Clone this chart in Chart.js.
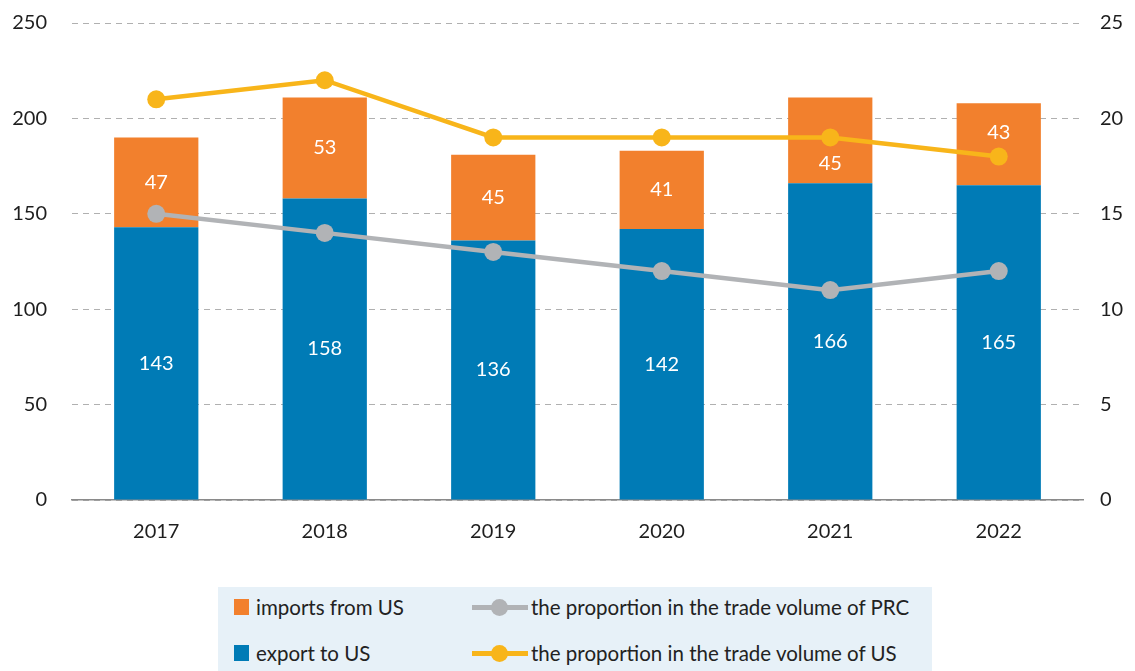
<!DOCTYPE html>
<html>
<head>
<meta charset="utf-8">
<script src="https://cdn.jsdelivr.net/npm/chart.js@4"></script>
<style>
  html, body { margin: 0; padding: 0; background: #fff; }
  #wrap { position: relative; width: 1135px; height: 671px; font-family: Lato, "Open Sans", sans-serif; }
  #chartBox { position: absolute; left: 0; top: 0; width: 1135px; height: 564px; }
  #legend {
    position: absolute; left: 218px; top: 587px; width: 714px; height: 84px;
    background: #e7f1f8; color: #222; font-size: 20.5px;
  }
  .item { position: absolute; display: flex; align-items: center; white-space: nowrap; height: 24px; }
  .box { width: 15px; height: 16px; margin-right: 7px; }
  .ln { position: relative; width: 56px; height: 5px; margin-right: 3px; }
  .ln i { position: absolute; left: 19px; top: -6px; width: 17px; height: 17px; border-radius: 50%; }
</style>
</head>
<body>
<div id="wrap">
  <div id="chartBox"><canvas id="tradeChart"></canvas></div>
  <div id="legend">
    <div class="item" style="left:16px;top:8px"><span class="box" style="background:#f2802d"></span>imports from US</div>
    <div class="item" style="left:16px;top:54px"><span class="box" style="background:#007bb6"></span>export to US</div>
    <div class="item" style="left:254px;top:8px"><span class="ln" style="background:#b1b3b6"><i style="background:#b1b3b6"></i></span>the proportion in the trade volume of PRC</div>
    <div class="item" style="left:254px;top:54px"><span class="ln" style="background:#f8b51a"><i style="background:#f8b51a"></i></span>the proportion in the trade volume of US</div>
  </div>
</div>
<script>
// dados
const years = ['2017', '2018', '2019', '2020', '2021', '2022'];
const exportToUS = [143, 158, 136, 142, 166, 165];
const importsFromUS = [47, 53, 45, 41, 45, 43];
const sharePRC = [15, 14, 13, 12, 11, 12];
const shareUS = [21, 22, 19, 19, 19, 18];

const BLUE = '#007bb6', ORANGE = '#f2802d', GREY = '#b1b3b6', YELLOW = '#f8b51a';
const FONT = 'Lato, "Open Sans", sans-serif';

// labels inside the bars, pushed away from line markers when they overlap
const barLabels = {
  id: 'barLabels',
  afterDatasetsDraw(chart) {
    const ctx = chart.ctx;
    const points = [];
    chart.data.datasets.forEach((ds, i) => {
      if (ds.type === 'line') chart.getDatasetMeta(i).data.forEach((p, j) => points.push({ j, y: p.y }));
    });
    ctx.save();
    ctx.fillStyle = '#fff';
    ctx.font = '20px ' + FONT;
    ctx.textAlign = 'center';
    ctx.textBaseline = 'middle';
    chart.data.datasets.forEach((ds, i) => {
      if (ds.type !== 'bar') return;
      chart.getDatasetMeta(i).data.forEach((bar, j) => {
        let y = (bar.y + bar.base) / 2;
        points.filter(p => p.j === j).forEach(p => {
          if (Math.abs(p.y - y) < 22) y = p.y <= y ? p.y + 26 : p.y - 24;
        });
        ctx.fillText(ds.data[j], bar.x, y);
      });
    });
    ctx.restore();
  }
};

new Chart(document.getElementById('tradeChart'), {
  data: {
    labels: years,
    datasets: [
      { type: 'bar', label: 'export to US', data: exportToUS, backgroundColor: BLUE, yAxisID: 'y', order: 2 },
      { type: 'bar', label: 'imports from US', data: importsFromUS, backgroundColor: ORANGE, yAxisID: 'y', order: 2 },
      { type: 'line', label: 'the proportion in the trade volume of PRC', data: sharePRC, borderColor: GREY, backgroundColor: GREY,
        borderWidth: 4.5, pointRadius: 9, pointBorderWidth: 0, yAxisID: 'y1', order: 1 },
      { type: 'line', label: 'the proportion in the trade volume of US', data: shareUS, borderColor: YELLOW, backgroundColor: YELLOW,
        borderWidth: 4.5, pointRadius: 9, pointBorderWidth: 0, yAxisID: 'y1', order: 0 }
    ]
  },
  options: {
    responsive: true,
    maintainAspectRatio: false,
    animation: false,
    datasets: { bar: { categoryPercentage: 1, barPercentage: 0.5 } },
    layout: { padding: 0 },
    plugins: { legend: { display: false }, tooltip: { enabled: false } },
    scales: {
      x: {
        stacked: true,
        grid: { display: false, drawTicks: false },
        border: { display: true, color: '#8a8a8a', width: 1.5 },
        ticks: { color: '#1e1e1e', font: { family: FONT, size: 20 }, padding: 20 }
      },
      y: {
        stacked: true, min: 0, max: 250,
        ticks: { stepSize: 50, color: '#1e1e1e', font: { family: FONT, size: 20 }, padding: 11 },
        grid: { color: '#b0b0b0', drawTicks: true, tickLength: 14, tickColor: 'transparent' },
        border: { display: false, dash: [6, 5] },
        afterFit(s) { s.width = 72; }
      },
      y1: {
        position: 'right', min: 0, max: 25,
        ticks: { stepSize: 5, color: '#1e1e1e', font: { family: FONT, size: 20 }, padding: 11 },
        grid: { display: false, drawTicks: true, tickLength: 6, tickColor: 'transparent' },
        border: { display: false },
        afterFit(s) { s.width = 52; }
      }
    }
  },
  plugins: [barLabels]
});
</script>
</body>
</html>
